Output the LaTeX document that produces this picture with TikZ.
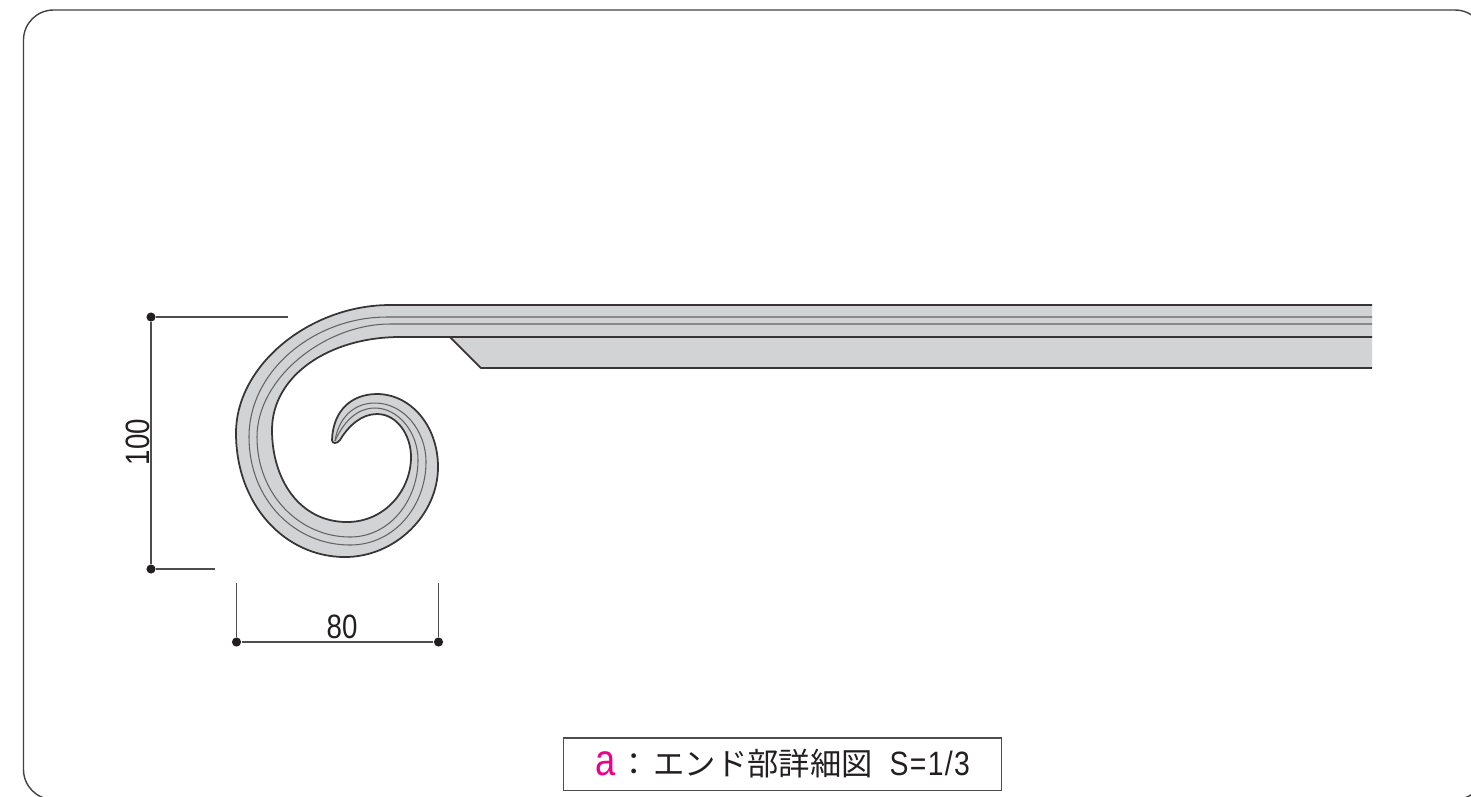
\documentclass[tikz,border=0pt]{standalone}
\usepackage{fontspec}
\setmainfont{Noto Sans CJK JP}
\newfontfamily\numfont[FakeStretch=.82]{Liberation Sans}
\newfontfamily\scalefont[FakeStretch=.84,LetterSpace=4]{Liberation Sans}
\definecolor{partgray}{HTML}{D1D3D4}
\definecolor{inkgray}{HTML}{231F20}
\definecolor{markpink}{HTML}{EC008C}
\newcommand{\scrollpath}{
  (390,305) .. controls (310,305) and (236,365) .. (236,433)
  .. controls (236,505) and (285,557) .. (345,557)
  .. controls (395,557) and (438,515) .. (438,467)
  .. controls (438,425) and (410,394) .. (377,394)
  .. controls (352,394) and (333,410) .. (332,440)
  .. controls (332,444) and (337,444) .. (340,440)
  .. controls (349,425) and (362,414) .. (377,414)
  .. controls (397,414) and (411,435) .. (411,457)
  .. controls (411,490) and (385,522) .. (347,522)
  .. controls (300,522) and (272,480) .. (272,430)
  .. controls (272,375) and (330,337) .. (400,337)}
\tikzset{
  outline/.style={draw=inkgray!90,line width=.5pt,line join=round},
  groove/.style={draw=inkgray!70,line width=.3pt},
  dimdot/.style={circle,fill=inkgray,inner sep=0pt,minimum size=2.6pt},
  dimline/.style={draw=inkgray!80,line width=.3pt},
  dimtext/.style={font=\numfont\fontsize{9.6pt}{11pt}\selectfont,text=inkgray,inner sep=0pt}
}
\begin{document}
\begin{tikzpicture}[x=.01cm,y=-.01cm]
  \useasboundingbox (0,0) rectangle (1471,796);

  \draw[draw=inkgray!85,line width=.4pt,rounded corners=.3cm] (23.5,10) rectangle (1485,799.5);

  \coordinate (stayA) at (450,337);
  \coordinate (stayB) at (481,368);
  \coordinate (stayC) at (1372,368);
  \coordinate (stayD) at (1372,337);
  \fill[partgray] (stayA) -- (stayB) -- (stayC) -- (stayD) -- cycle;
  \draw[outline] (stayA) -- (stayB) -- (stayC);

  \fill[partgray] (1372,305) -- \scrollpath -- (1372,337) -- cycle;

  \draw[groove] (1372,317) -- (387,317)
    .. controls (315,317) and (249,370) .. (249,437)
    .. controls (249,500) and (295,545) .. (350,545)
    .. controls (395,545) and (426,505) .. (426,462)
    .. controls (426,430) and (403,403) .. (375,403)
    .. controls (352,403) and (338,420) .. (335,441);
  \draw[groove] (1372,324) -- (390,324)
    .. controls (325,324) and (257,378) .. (257,437)
    .. controls (257,495) and (300,537) .. (350,537)
    .. controls (390,537) and (418,500) .. (418,460)
    .. controls (418,432) and (398,408) .. (375,408)
    .. controls (355,408) and (342,425) .. (335,441);

  \draw[outline] (1372,305) -- \scrollpath -- (1372,337);

  \begin{scope}[every node/.style={dimdot}]
    \node (top)    at (151,317) {};
    \node (bottom) at (151,569) {};
    \node (left)   at (236.5,642) {};
    \node (right)  at (438.5,642) {};
  \end{scope}
  \coordinate (topend)    at (288,317);
  \coordinate (bottomend) at (215,569);
  \coordinate (leftend)   at (236.5,583);
  \coordinate (rightend)  at (438.5,583);

  \begin{scope}[every edge/.style={dimline}]
    \path (top) edge (bottom);
    \path (top) edge (topend);
    \path (bottom) edge (bottomend);
    \path (left) edge (right);
    \path (left) edge (leftend);
    \path (right) edge (rightend);
  \end{scope}

  \node[dimtext,rotate=90] (height) at (138,442) {100};
  \node[dimtext] (width) at (342,627) {80};

  \node[draw=inkgray!80,line width=.3pt,minimum width=4.37cm,minimum height=.52cm,inner sep=0pt,
    text=inkgray,font=\fontsize{8.9pt}{10pt}\selectfont] (title) at (782.5,764)
    {{\numfont\fontsize{12.6pt}{12pt}\selectfont\textcolor{markpink}{a}}\hspace{.03cm}：\hspace{.04cm}エンド部詳細図\hspace{.17cm}{\scalefont\fontsize{9.6pt}{10pt}\selectfont S=1/3}\hspace{.17cm}};
\end{tikzpicture}
\end{document}
